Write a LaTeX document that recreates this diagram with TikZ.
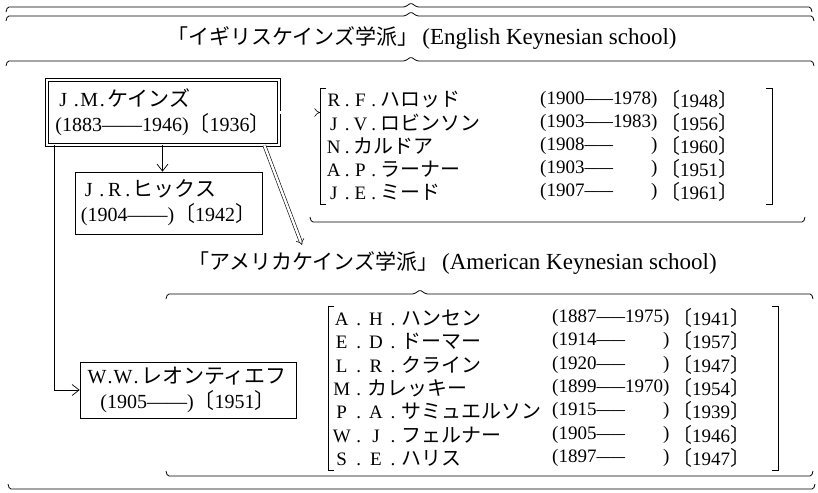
\documentclass[tikz,border=0pt]{standalone}
\usepackage{fontspec}
\setmainfont{Liberation Serif}
\newfontfamily\jp[Scale=1.05]{Noto Sans CJK JP}
\usetikzlibrary{arrows.meta}
\newcommand\J[1]{{\jp #1}}
\newlength\cw
\setlength\cw{1em}
\newcommand\fc[1]{\makebox[\cw][c]{#1}}
\newcommand\fb[1]{\makebox[0.8em][c]{#1}}
\newcommand\db{\makebox[0.5em][c]{.}}
\newcommand\dsh{\scalebox{0.75}[1]{——}}
\newcommand\obr[4]{\draw[brc,rounded corners=1.5pt] (#1,#4+5) -- (#1+1.5,#4) -- (#3-6,#4) -- (#3,#4-4) -- (#3+6,#4) -- (#2-1.5,#4) -- (#2,#4+5);}
\newcommand\ubr[3]{\draw[brc,rounded corners=1.5pt] (#1,#3-5) -- (#1+1.5,#3) -- (#2-1.5,#3) -- (#2,#3-5);}
\tikzset{
  lst/.style={font=\fontsize{19}{22}\selectfont, inner sep=0pt, anchor=west},
  elst/.style={lst, execute at begin node={\setlength\cw{0.7em}}},
  alst/.style={lst, execute at begin node={\setlength\cw{0.9em}}},
  ttl/.style={font=\fontsize{23}{26}\selectfont, inner sep=0pt},
  bx/.style={draw, line width=0.7pt, font=\fontsize{20}{25}\selectfont, inner sep=0pt},
  dbx/.style={bx, double, double distance=2.4pt, line width=0.6pt},
  arr/.style={line width=0.7pt, -{Straight Barb[length=7pt,width=11pt,line width=0.7pt]}},
  darr/.style={double, double distance=2.4pt, line width=0.6pt, -{Implies[scale=1.4]}},
  brc/.style={line width=0.8pt},
  brk/.style={line width=0.8pt}
}
\begin{document}
\begin{tikzpicture}[x=1pt,y=-1pt]
\useasboundingbox (0,0) rectangle (818,492);
% top braces and title
\obr{6}{812}{411}{7}
\obr{6}{814}{411}{16}
\node[ttl] (etitle) at (422,38) {{\fontsize{20}{26}\selectfont\J{「イギリスケインズ学派」}}\,(English Keynesian school)};
\obr{6}{814}{411}{61}

% boxes
\node[dbx, minimum width=232pt, minimum height=65pt, align=left] (keynes) at (163,112.5)
  {\fb{J}\db\fb{M}\db\J{ケインズ}\\(1883——1946)\J{〔}1936\J{〕}};
\node[bx, minimum width=187pt, minimum height=62pt, align=left] (hicks) at (168.5,203)
  {\fb{J}\db\fb{R}\db\J{ヒックス}\\(1904——)\J{〔}1942\J{〕}};
\node[bx, minimum width=216pt, minimum height=56pt, align=center] (leon) at (188,390)
  {\fb{W}\db\fb{W}\db\J{レオンティエフ}\\(1905——)\J{〔}1951\J{〕}};

% English list
\draw[brk] (326,88) -- (320,88) -- (320,204) -- (326,204);
\draw[brk] (766,88) -- (772,88) -- (772,204) -- (766,204);
\coordinate (ebr) at (320,112.5);
\node[elst] (e1n) at (327,100) {\fc{R}\fc{.}\fc{F}\fc{.}\J{ハロッド}};
\node[elst] (e1d) at (540,100) {(1900\dsh1978)};
\node[elst] (e1y) at (660,100) {\J{〔}1948\J{〕}};
\node[elst] (e2n) at (327,123) {\fc{J}\fc{.}\fc{V}\fc{.}\J{ロビンソン}};
\node[elst] (e2d) at (540,123) {(1903\dsh1983)};
\node[elst] (e2y) at (660,123) {\J{〔}1956\J{〕}};
\node[elst] (e3n) at (327,146) {\fc{N}\fc{.}\J{カルドア}};
\node[elst] (e3d) at (540,146) {(1908\dsh\phantom{1978})};
\node[elst] (e3y) at (660,146) {\J{〔}1960\J{〕}};
\node[elst] (e4n) at (327,169) {\fc{A}\fc{.}\fc{P}\fc{.}\J{ラーナー}};
\node[elst] (e4d) at (540,169) {(1903\dsh\phantom{1978})};
\node[elst] (e4y) at (660,169) {\J{〔}1951\J{〕}};
\node[elst] (e5n) at (327,192) {\fc{J}\fc{.}\fc{E}\fc{.}\J{ミード}};
\node[elst] (e5d) at (540,192) {(1907\dsh\phantom{1978})};
\node[elst] (e5y) at (660,192) {\J{〔}1961\J{〕}};
\ubr{310}{805}{222}

% American title and brace
\coordinate (amtip) at (302,245);
\node[ttl, anchor=west] (atitle) at (188,263) {{\fontsize{20}{26}\selectfont\J{「アメリカケインズ学派」}}\,(American Keynesian school)};
\obr{166}{813}{420}{294}

% American list
\draw[brk] (334,306) -- (328,306) -- (328,470) -- (334,470);
\draw[brk] (772,306) -- (778,306) -- (778,470) -- (772,470);
\node[alst] (a1n) at (333,318) {\fc{A}\fc{.}\fc{H}\fc{.}\J{ハンセン}};
\node[alst] (a1d) at (552,318) {(1887\dsh1975)};
\node[alst] (a1y) at (672,318) {\J{〔}1941\J{〕}};
\node[alst] (a2n) at (333,341) {\fc{E}\fc{.}\fc{D}\fc{.}\J{ドーマー}};
\node[alst] (a2d) at (552,341) {(1914\dsh\phantom{1975})};
\node[alst] (a2y) at (672,341) {\J{〔}1957\J{〕}};
\node[alst] (a3n) at (333,365) {\fc{L}\fc{.}\fc{R}\fc{.}\J{クライン}};
\node[alst] (a3d) at (552,365) {(1920\dsh\phantom{1975})};
\node[alst] (a3y) at (672,365) {\J{〔}1947\J{〕}};
\node[alst] (a4n) at (333,388) {\fc{M}\fc{.}\J{カレッキー}};
\node[alst] (a4d) at (552,388) {(1899\dsh1970)};
\node[alst] (a4y) at (672,388) {\J{〔}1954\J{〕}};
\node[alst] (a5n) at (333,411) {\fc{P}\fc{.}\fc{A}\fc{.}\J{サミュエルソン}};
\node[alst] (a5d) at (552,411) {(1915\dsh\phantom{1975})};
\node[alst] (a5y) at (672,411) {\J{〔}1939\J{〕}};
\node[alst] (a6n) at (333,435) {\fc{W}\fc{.}\fc{J}\fc{.}\J{フェルナー}};
\node[alst] (a6d) at (552,435) {(1905\dsh\phantom{1975})};
\node[alst] (a6y) at (672,435) {\J{〔}1946\J{〕}};
\node[alst] (a7n) at (333,458) {\fc{S}\fc{.}\fc{E}\fc{.}\J{ハリス}};
\node[alst] (a7d) at (552,458) {(1897\dsh\phantom{1975})};
\node[alst] (a7y) at (672,458) {\J{〔}1947\J{〕}};
\ubr{166}{813}{476}
\ubr{8}{815}{489}

% connectors
\draw[darr] (keynes.east) -- (ebr);
\draw[darr] ([xshift=-15pt]keynes.south east) -- (amtip);
\draw[arr] ([xshift=-6pt]hicks.north |- keynes.south) -- ([xshift=-6pt]hicks.north);
\draw[arr] ([xshift=8pt]keynes.south west) |- (leon.west);
\end{tikzpicture}
\end{document}
